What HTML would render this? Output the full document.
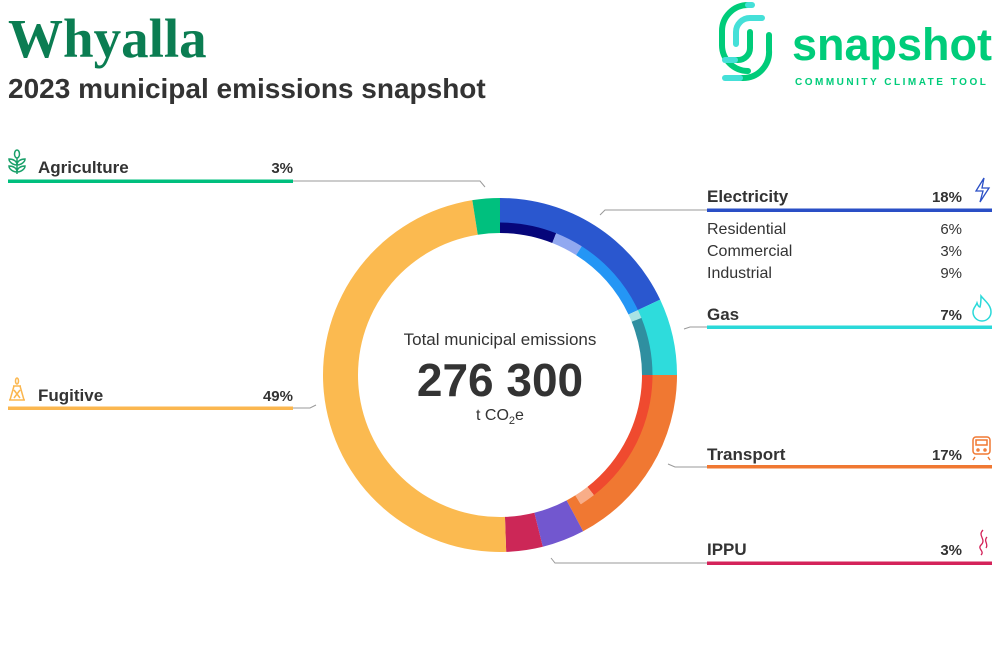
<!DOCTYPE html>
<html><head><meta charset="utf-8"><style>
body{margin:0;background:#fff;width:1000px;height:670px;overflow:hidden}
svg{display:block}
text{font-family:"Liberation Sans",sans-serif}
</style></head><body>
<svg id="s" width="1000" height="670" viewBox="0 0 1000 670">
<text x="8" y="57" font-weight="bold" font-size="55" fill="#0b7d52" style="font-family:'Liberation Serif',serif">Whyalla</text>
<text x="8" y="98" font-weight="bold" font-size="28" fill="#333">2023 municipal emissions snapshot</text>
<g fill="none" stroke-linecap="round" stroke-width="6">
<path d="M748 5 A26 26 0 0 0 722 31 V45" stroke="#00cc7a"/>
<path d="M722 45 A26 26 0 0 0 748 71" stroke="#00cc7a"/>
<path d="M748 5 H752" stroke="#45e0d8"/>
<path d="M762 18 H750 A14 14 0 0 0 736 32 V44" stroke="#45e0d8"/>
<path d="M750 32 V48 A12 12 0 0 1 738 60 H735" stroke="#00cc7a"/>
<path d="M769 35 V50 A26 26 0 0 1 743 78 H740" stroke="#00cc7a"/>
<path d="M740 78 H725" stroke="#45e0d8"/>
<path d="M735 60 H725" stroke="#45e0d8"/>
</g>
<text x="792" y="60" font-weight="bold" font-size="45" fill="#00cc7a">snapshot</text>
<text x="795" y="85" font-weight="bold" font-size="10" fill="#00cc7a" letter-spacing="2.5">COMMUNITY CLIMATE TOOL</text>
<g id="donut"></g>
<text x="500" y="345" text-anchor="middle" font-size="17" fill="#333">Total municipal emissions</text>
<text x="500" y="396" text-anchor="middle" font-weight="bold" font-size="46" fill="#333">276 300</text>
<text x="500" y="420" text-anchor="middle" font-size="16" fill="#333">t CO<tspan font-size="11" dy="4">2</tspan><tspan dy="-4">e</tspan></text>
<g stroke="#999" fill="none" stroke-width="1">
<polyline points="293,181 480,181 485,187"/>
<polyline points="293,408 310,408 316,405"/>
<polyline points="707,210 605,210 600,215"/>
<polyline points="707,327 690,327 684,329"/>
<polyline points="707,467 675,467 668,464"/>
<polyline points="707,563 555,563 551,558"/>
</g>
<rect x="8" y="179.5" width="285" height="3.5" fill="#00bf7e"/>
<text x="38" y="173" font-weight="bold" font-size="17" fill="#333">Agriculture</text>
<text x="293" y="173" text-anchor="end" font-weight="bold" font-size="15" fill="#333">3%</text>
<g fill="none" stroke="#1aa06a" stroke-width="1.5"><ellipse cx="17" cy="154" rx="2.5" ry="4"/><path d="M17 158v16M17 165c-4 0-8-3-8-6c4 0 8 2 8 6c0-4 4-6 8-6c0 3-4 6-8 6M17 172c-4 0-8-3-8-6c4 0 8 2 8 6c0-4 4-6 8-6c0 3-4 6-8 6"/></g>
<rect x="8" y="406.5" width="285" height="3.5" fill="#fbb74f"/>
<text x="38" y="401" font-weight="bold" font-size="17" fill="#333">Fugitive</text>
<text x="293" y="401" text-anchor="end" font-weight="bold" font-size="15" fill="#333">49%</text>
<g fill="none" stroke="#fbb74f" stroke-width="1.5"><ellipse cx="17" cy="381" rx="1.5" ry="3"/><path d="M13 386h8M14 386l-4 14M20 386l4 14M9 400h16M14 390l6 8M20 390l-6 8"/></g>
<rect x="707" y="208.5" width="285" height="3.5" fill="#2a4fc6"/>
<text x="707" y="202" font-weight="bold" font-size="17" fill="#333">Electricity</text>
<text x="962" y="202" text-anchor="end" font-weight="bold" font-size="15" fill="#333">18%</text>
<path d="M984 178l-8 13h7l-3 11 9-14h-7z" fill="none" stroke="#2a4fc6" stroke-width="1.3"/>
<g font-size="16" fill="#333"><text x="707" y="234">Residential</text><text x="707" y="256">Commercial</text><text x="707" y="278">Industrial</text>
<text x="962" y="234" text-anchor="end" font-size="15">6%</text><text x="962" y="256" text-anchor="end" font-size="15">3%</text><text x="962" y="278" text-anchor="end" font-size="15">9%</text></g>
<rect x="707" y="325.5" width="285" height="3.5" fill="#2ad9d9"/>
<text x="707" y="320" font-weight="bold" font-size="17" fill="#333">Gas</text>
<text x="962" y="320" text-anchor="end" font-weight="bold" font-size="15" fill="#333">7%</text>
<path d="M981 296c4 5 10 9 10 16a9 9 0 0 1-18 0c0-4 3-6 4-9c1 3 2 4 3 4c1-4 1-7 1-11z" fill="none" stroke="#2ad9d9" stroke-width="1.5"/>
<rect x="707" y="465" width="285" height="3.5" fill="#f07832"/>
<text x="707" y="460" font-weight="bold" font-size="17" fill="#333">Transport</text>
<text x="962" y="460" text-anchor="end" font-weight="bold" font-size="15" fill="#333">17%</text>
<g fill="none" stroke="#f07832" stroke-width="1.5"><rect x="973" y="437" width="17" height="17" rx="3"/><rect x="976" y="440" width="11" height="5"/><path d="M975 457l-2 3M988 457l2 3"/><circle cx="978" cy="450" r="1"/><circle cx="985" cy="450" r="1"/></g>
<rect x="707" y="561.5" width="285" height="3.5" fill="#d4235a"/>
<text x="707" y="555" font-weight="bold" font-size="17" fill="#333">IPPU</text>
<text x="962" y="555" text-anchor="end" font-weight="bold" font-size="15" fill="#333">3%</text>
<path d="M983 530c-6 6 4 9-2 15c-4 4 4 6 0 10M987 537c-4 4 2 7-1 11" fill="none" stroke="#d4235a" stroke-width="1.3"/>
</svg>
<script>
var cx=500,cy=375;
function P(r,a){a=(a-90)*Math.PI/180;return [cx+r*Math.cos(a),cy+r*Math.sin(a)];}
function arc(r1,r2,a0,a1,c){var l=(a1-a0)>180?1:0,p0=P(r2,a0),p1=P(r2,a1),p2=P(r1,a1),p3=P(r1,a0);
return '<path fill="'+c+'" d="M'+p0+' A'+r2+' '+r2+' 0 '+l+' 1 '+p1+' L'+p2+' A'+r1+' '+r1+' 0 '+l+' 0 '+p3+'Z"/>';}
var h='';
[[0,64.8,'#2a57cf'],[64.8,90,'#2edcdc'],[90,152,'#f07832']].forEach(function(s){h+=arc(152,177,s[0],s[1],s[2]);});
[[152,166,'#7257cf'],[166,178,'#cc2757'],[178,351,'#fbba50'],[351,360,'#00c07e']].forEach(function(s){h+=arc(142,177,s[0],s[1],s[2]);});
[[0,21.6,'#06067a'],[21.6,32.4,'#91a8f0'],[32.4,64.8,'#2496f5'],[64.8,68,'#a9e4e4'],[68,90,'#2f8fa0'],[90,142,'#ef4a2f'],[142,148,'#f8ad88'],[148,152,'#f07832']].forEach(function(s){h+=arc(142,152.5,s[0],s[1],s[2]);});
document.getElementById('donut').innerHTML=h;
</script>
</body></html>
